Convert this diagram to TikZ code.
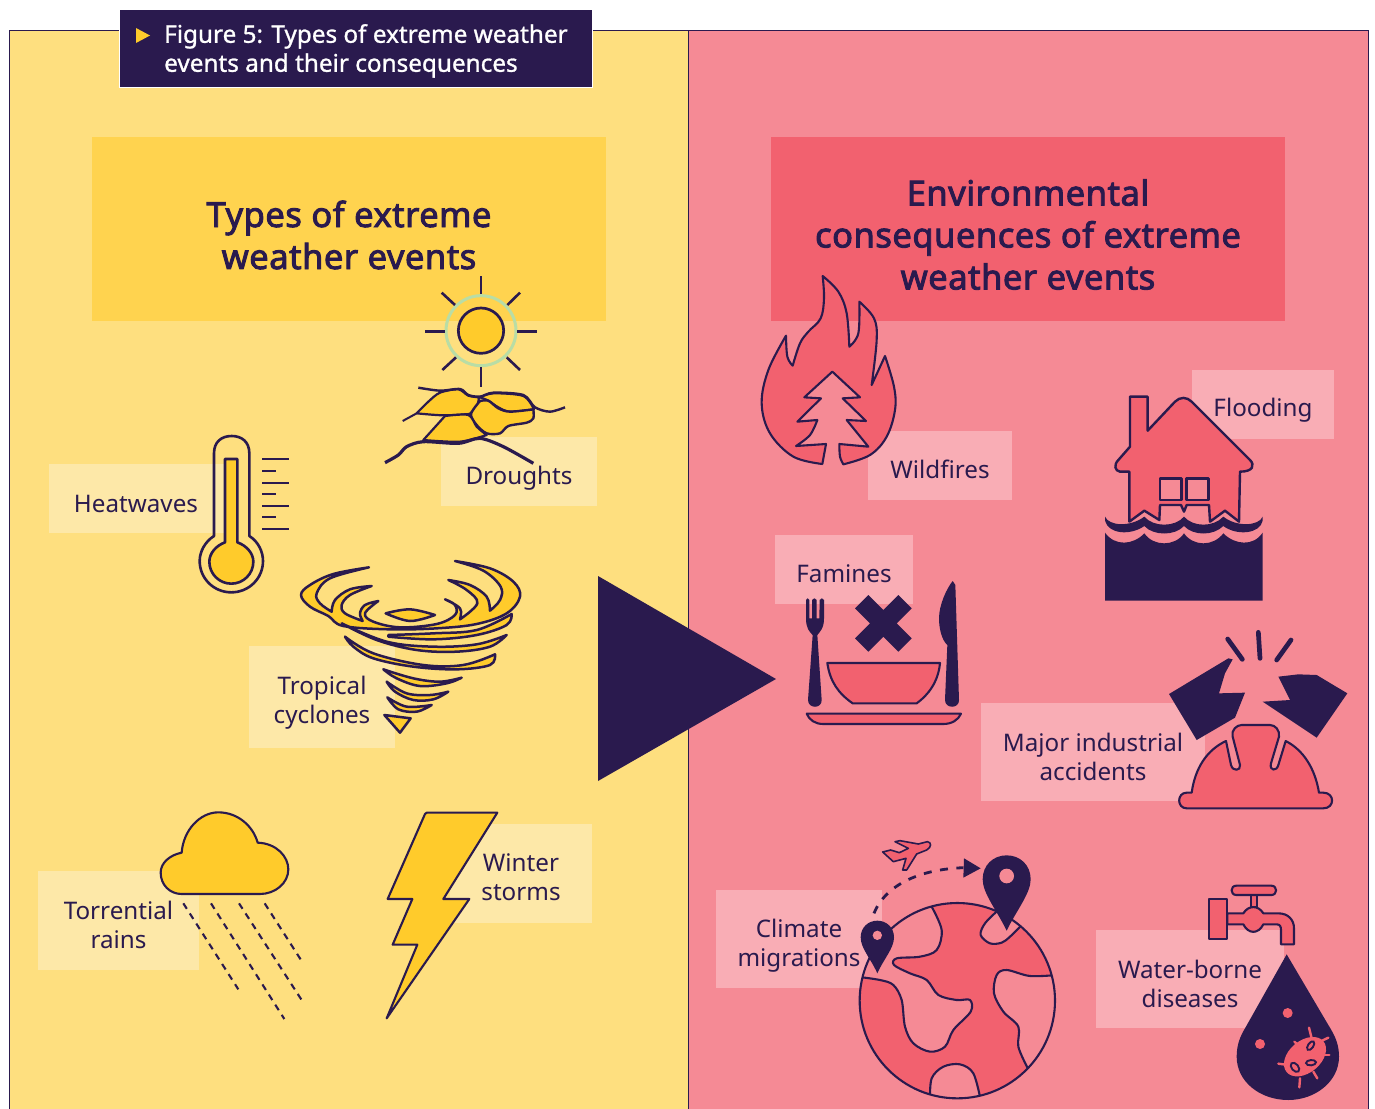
\documentclass[tikz,border=0pt]{standalone}
\usepackage{fontspec}
\setmainfont{Noto Sans}
\newfontfamily\medfont[FakeBold=1.1]{Noto Sans}
\newfontfamily\headfont[FakeBold=2.6,LetterSpace=1.5]{Noto Sans}
\definecolor{navy}{HTML}{2A1A4E}
\definecolor{ypanel}{HTML}{FEDF7F}
\definecolor{yhead}{HTML}{FFD34F}
\definecolor{ylabel}{HTML}{FDE8A8}
\definecolor{sun}{HTML}{FFCB2B}
\definecolor{rpanel}{HTML}{F58A95}
\definecolor{rhead}{HTML}{F2616F}
\definecolor{rlabel}{HTML}{F9ADB5}
\definecolor{ringg}{HTML}{B9DDA5}
\tikzset{
  zoomed/.style={x=0.33333pt,y=-0.33333pt},
  ic/.style={draw=navy,line width=2.1pt,line join=round},
  ray/.style={draw=navy,line width=2.6pt},
  lab/.style={inner sep=0pt,align=center,text=navy,font=\fontsize{24.2}{29}\selectfont},
  ybox/.style={inner sep=0pt,fill=ylabel},
  rbox/.style={inner sep=0pt,fill=rlabel},
  headtxt/.style={inner sep=0pt,align=center,text=navy,font=\fontsize{34.5}{42}\selectfont\headfont},
}
\begin{document}
\begin{tikzpicture}[x=1pt,y=-1pt]
\useasboundingbox (0,0) rectangle (1375,1108);
% panels
\filldraw[fill=ypanel,draw=navy,line width=1pt] (9.5,30.5) rectangle (688,1120);
\filldraw[fill=rpanel,draw=navy,line width=1pt] (688,30.5) rectangle (1368,1120);
% title
\node[draw=white,line width=1pt,fill=navy,minimum width=473pt,minimum height=77pt,inner sep=0pt] (titlebox) at (355.5,48.5) {};
\node[anchor=north west,inner sep=0pt,text=white,align=left,font=\fontsize{24.3}{29}\selectfont\medfont] (titletext) at (164,24) {Figure 5: Types of extreme weather\\events and their consequences};
\fill[sun] (136,28) -- (150,35.5) -- (136,43) -- cycle;
% headers
\node[fill=yhead,minimum width=514pt,minimum height=184pt,inner sep=0pt] (lefthead) at (349,229) {};
\node[headtxt] (lefttext) at (349,235) {Types of extreme\\weather events};
\node[fill=rhead,minimum width=514pt,minimum height=184pt,inner sep=0pt] (righthead) at (1028,229) {};
\node[headtxt] (righttext) at (1028,234.5) {Environmental\\consequences of extreme\\weather events};
% labels
\node[ybox,minimum width=175pt,minimum height=69pt] (heatbox) at (136.5,498.5) {};
\node[lab] (heat) at (136,503.5) {Heatwaves};
\node[ybox,minimum width=156pt,minimum height=69pt] (droughtbox) at (519,471.5) {};
\node[lab] (drought) at (519,478) {Droughts};
\node[ybox,minimum width=146pt,minimum height=102pt] (cyclonebox) at (322,697) {};
\node[lab] (cyclone) at (322,703) {Tropical\\cyclones};
\node[ybox,minimum width=161pt,minimum height=99pt] (rainbox) at (118.5,920.5) {};
\node[lab] (rain) at (118.5,925) {Torrential\\rains};
\node[ybox,minimum width=142pt,minimum height=99pt] (winterbox) at (521,873.5) {};
\node[lab] (winter) at (521,877.5) {Winter\\storms};
\node[rbox,minimum width=144pt,minimum height=69pt] (wildbox) at (940,465.5) {};
\node[lab] (wild) at (940,469.5) {Wildfires};
\node[rbox,minimum width=142pt,minimum height=69pt] (floodbox) at (1263,404.5) {};
\node[lab] (flood) at (1263,410.5) {Flooding};
\node[rbox,minimum width=138pt,minimum height=69pt] (faminebox) at (844,569.5) {};
\node[lab] (famine) at (844,574) {Famines};
\node[rbox,minimum width=224pt,minimum height=98pt] (majorbox) at (1093,752) {};
\node[lab] (major) at (1093,757) {Major industrial\\accidents};
\node[rbox,minimum width=166pt,minimum height=98pt] (climatebox) at (799,939) {};
\node[lab] (climate) at (799,946) {Climate\\migrations};
\node[rbox,minimum width=188pt,minimum height=98pt] (waterbox) at (1190,979) {};
\node[lab] (water) at (1190,983.5) {Water-borne\\diseases};
% big arrow
\fill[navy] (598,576) -- (776,679) -- (598,781) -- cycle;
% ---- sun and drought
\begin{scope}[shift={(370,270)},zoomed]
\draw[draw=ringg,line width=3pt] (333,182) circle (105);
\filldraw[ic,fill=sun,line width=2.7pt] (333,182) circle (68);
\foreach \a/\b/\c/\d in {333/18/333/72,165/184/225/184,442/184/500/184,333/292/333/350,215/68/255/105,450/68/412/105,258/262/217/300,410/262/450/300}
  \draw[ray] (\a,\b) -- (\c,\d);
\begin{scope}[ic,fill=sun,smooth,tension=.5]
\filldraw[line width=2.2pt] (140,430) -- plot coordinates {(140,430)(175,395)(210,368)(265,358)(295,377)(327,382)} -- plot coordinates {(327,382)(320,412)(298,432)} -- plot coordinates {(298,432)(220,436)(140,430)} -- cycle;
\filldraw[line width=2.2pt] plot coordinates {(330,382)(370,370)(460,378)(492,418)} -- plot coordinates {(492,418)(420,425)(385,412)(355,392)(330,382)} -- cycle;
\filldraw[line width=2.4pt] plot coordinates {(330,393)(355,392)(385,415)(420,425)(490,418)} -- plot coordinates {(490,418)(490,445)(470,458)(415,468)(390,490)(350,490)(320,465)(303,432)(330,393)} -- cycle;
\filldraw[line width=2.2pt] plot coordinates {(225,438)(295,435)(320,470)(350,495)} -- plot coordinates {(350,495)(270,515)(160,510)} -- cycle;
\draw[fill=none,line width=2.4pt] plot coordinates {(145,353)(210,362)(270,357)(295,375)(330,380)(370,368)(460,375)(495,412)(540,425)(585,412)};
\draw[fill=none,line width=2pt] plot coordinates {(98,453)(140,430)};
\draw[fill=none,line width=3.2pt] plot coordinates {(45,578)(85,555)(110,530)(160,515)(265,520)(330,505)(400,530)(490,580)};
\end{scope}
\end{scope}
% ---- thermometer
\begin{scope}[shift={(190,425)},zoomed]
\draw[ic,line width=2.6pt] (72,333) -- (72,85) .. controls (72,50) and (95,33) .. (125,33) .. controls (155,33) and (178,50) .. (178,85) -- (178,333) .. controls (205,350) and (219,380) .. (219,408) .. controls (219,460) and (177,502) .. (124,502) .. controls (71,502) and (29,460) .. (29,408) .. controls (29,380) and (45,350) .. (72,333) -- cycle;
\filldraw[ic,fill=sun,line width=2.6pt] (105,352) -- (105,102) -- (142,102) -- (142,352) .. controls (170,362) and (190,385) .. (190,410) .. controls (190,447) and (160,476) .. (124,476) .. controls (88,476) and (58,447) .. (58,410) .. controls (58,385) and (78,362) .. (105,352) -- cycle;
\foreach \y in {103,173,243,312} \draw[ray,line width=2.1pt] (217,\y) -- (297,\y);
\foreach \y in {138,207,277} \draw[ray,line width=2.1pt] (217,\y) -- (257,\y);
\end{scope}
% ---- tornado
\begin{scope}[shift={(290,550)},zoomed]
\begin{scope}[ic,line width=2.5pt,fill=sun,smooth,tension=.6]
\filldraw plot coordinates {(237,52)(130,72)(60,105)(33,135)(60,170)(115,198)(160,228)(300,238)(440,235)(560,222)(650,190)(690,140)(670,95)(600,55)(495,33)} -- plot coordinates {(495,33)(580,62)(632,110)(630,150)(600,182)} -- plot coordinates {(600,182)(590,140)(540,105)(475,90)} -- plot coordinates {(475,90)(530,120)(562,160)(510,208)} -- plot coordinates {(510,208)(510,175)(465,148)} -- plot coordinates {(465,148)(495,165)(495,195)(440,222)(330,232)(250,215)(225,190)(265,153)} -- plot coordinates {(265,153)(225,165)(210,190)(218,213)} -- plot coordinates {(218,213)(165,190)(155,165)(180,135)(245,108)} -- plot coordinates {(245,108)(180,118)(135,150)(125,185)} -- plot coordinates {(125,185)(90,160)(80,130)(120,85)(237,52)} -- cycle;
\filldraw plot coordinates {(287,190)(360,178)(435,195)} -- plot coordinates {(435,195)(360,213)(287,190)} -- cycle;
\filldraw plot coordinates {(665,192)(560,240)(430,250)(295,255)} -- plot coordinates {(295,260)(430,268)(560,255)(650,225)(665,192)} -- cycle;
\filldraw plot coordinates {(155,220)(290,275)(430,290)(560,283)(650,255)} -- plot coordinates {(650,255)(600,290)(500,305)(380,300)(260,270)(155,220)} -- cycle;
\filldraw plot coordinates {(165,260)(250,310)(400,345)(520,345)(615,313)} -- plot coordinates {(615,313)(600,345)(500,358)(370,350)(250,325)(190,290)(165,260)} -- cycle;
\filldraw plot coordinates {(280,358)(370,385)(450,395)(515,383)} -- plot coordinates {(515,383)(470,400)(390,408)(320,385)(280,358)} -- cycle;
\filldraw plot coordinates {(290,395)(350,430)(420,435)(475,425)} -- plot coordinates {(475,425)(430,448)(370,450)(315,425)(290,395)} -- cycle;
\filldraw plot coordinates {(292,442)(350,470)(425,465)} -- plot coordinates {(425,465)(380,485)(325,478)(292,442)} -- cycle;
\filldraw[sharp plot] (283,495) -- (362,505) -- (330,548) -- cycle;
\end{scope}
\end{scope}
% ---- cloud, rain, lightning
\begin{scope}[shift={(150,800)},zoomed]
\filldraw[ic,fill=sun] (95,158) .. controls (100,90) and (150,37) .. (205,37) .. controls (265,37) and (310,80) .. (323,128) .. controls (380,130) and (415,170) .. (415,208) .. controls (415,250) and (375,282) .. (330,282) -- (95,282) .. controls (60,282) and (32,255) .. (32,218) .. controls (32,188) and (60,165) .. (95,158) -- cycle;
\foreach \a/\b/\c/\d in {100/310/265/568,183/310/403/657,267/310/455/600,344/310/455/483}
  \draw[navy,line width=2.1pt,dash pattern=on 6.5pt off 5.5pt] (\a,\b) -- (\c,\d);
\filldraw[ic,fill=sun] (830,38) -- (1042,38) -- (880,297) -- (958,297) -- (710,655) -- (802,434) -- (728,434) -- (787,297) -- (713,297) -- (825,42) -- cycle;
\end{scope}
% ---- flame
\begin{scope}[shift={(750,270)},zoomed]
\filldraw[ic,fill=rhead,smooth,tension=.6] plot coordinates {(218,18)(265,65)(290,130)(298,230)} -- plot coordinates {(298,230)(325,190)(328,95)} -- plot coordinates {(328,95)(372,145)(380,210)(365,345)} -- (405,258) -- plot coordinates {(405,258)(432,350)(435,420)(410,500)(360,555)(280,583)} -- plot coordinates {(280,583)(270,560)(268,522)} -- (355,530) -- (290,450) -- (348,453) -- (278,385) -- (330,382) -- (247,305) -- (163,382) -- (213,385) -- (142,455) -- (202,450) -- plot coordinates {(202,450)(180,495)(138,528)} -- (228,522) -- (217,582) -- plot coordinates {(217,582)(130,560)(60,490)(35,400)(55,300)(108,197)} -- plot coordinates {(108,197)(112,260)(128,287)} -- plot coordinates {(128,287)(150,220)(175,185)(212,145)(222,85)(218,18)} -- cycle;
\end{scope}
% ---- house
\begin{scope}[shift={(1095,390)},zoomed]
\filldraw[ic,fill=rhead,line width=2.4pt] (105,170) -- (105,20) -- (158,20) -- (158,122) -- (240,35) .. controls (255,20) and (275,20) .. (290,35) -- (465,210) .. controls (480,225) and (475,245) .. (435,245) -- (432,395) -- (390,362) -- (345,395) -- (342,345) -- (275,345) -- (267,365) -- (258,345) -- (195,345) -- (193,390) -- (148,362) -- (103,395) -- (103,245) -- (75,245) .. controls (60,243) and (55,225) .. (70,210) -- cycle;
\filldraw[ic,fill=rpanel,line width=2.4pt] (195,265) rectangle (260,330);
\filldraw[ic,fill=rpanel,line width=2.4pt] (275,265) rectangle (340,330);
\fill[navy] (30,380) .. controls (42,408) and (105,412) .. (148,380) .. controls (175,412) and (240,412) .. (267,380) .. controls (295,412) and (355,412) .. (385,380) .. controls (425,412) and (492,408) .. (503,380) -- (503,392) .. controls (495,432) and (425,438) .. (385,408) .. controls (355,438) and (295,438) .. (267,408) .. controls (240,438) and (175,438) .. (148,408) .. controls (105,438) and (40,432) .. (30,392) -- cycle;
\fill[navy] (30,428) .. controls (60,470) and (115,465) .. (148,430) .. controls (175,470) and (240,470) .. (267,430) .. controls (295,470) and (355,470) .. (385,430) .. controls (420,465) and (475,470) .. (503,428) -- (503,632) -- (30,632) -- cycle;
\end{scope}
% ---- famine
\begin{scope}[shift={(800,575)},zoomed]
\fill[navy,line join=round] (18,75) .. controls (20,68) and (26,68) .. (28,75) -- (28,130) -- (36,130) -- (36,75) .. controls (38,68) and (48,68) .. (50,75) -- (50,130) -- (58,130) -- (59,75) .. controls (61,68) and (70,68) .. (72,75) -- (72,130) .. controls (72,160) and (60,170) .. (52,180) -- (65,375) .. controls (66,402) and (24,402) .. (24,375) -- (38,180) .. controls (28,170) and (18,160) .. (18,130) -- cycle;
\fill[navy] (165,100) -- (205,60) -- (250,105) -- (295,60) -- (335,100) -- (290,145) -- (335,190) -- (295,230) -- (250,185) -- (205,230) -- (165,190) -- (210,145) -- cycle;
\fill[navy] (458,18) -- (466,30) -- (477,375) .. controls (478,402) and (435,402) .. (435,375) -- (442,210) .. controls (425,195) and (417,160) .. (417,130) .. controls (417,90) and (440,40) .. (458,18) -- cycle;
\filldraw[ic,fill=rhead] (82,264) -- (420,264) .. controls (415,320) and (385,360) .. (350,385) -- (158,385) .. controls (115,355) and (90,320) .. (82,264) -- cycle;
\filldraw[ic,fill=rhead] (20,416) -- (483,416) .. controls (475,435) and (455,447) .. (430,447) -- (70,447) .. controls (45,447) and (28,435) .. (20,416) -- cycle;
\end{scope}
% ---- helmet
\begin{scope}[shift={(1165,625)},zoomed]
\foreach \a/\b/\c/\d in {188/42/232/103,280/22/285/100,378/45/335/105}
  \draw[navy,line width=4.7pt,line cap=round] (\a,\b) -- (\c,\d);
\fill[navy] (12,207) -- (190,100) -- (203,103) -- (180,145) -- (162,205) -- (240,203) -- (210,278) -- (95,345) -- cycle;
\fill[navy] (340,155) -- (400,148) -- (455,150) -- (547,205) -- (455,338) -- (293,230) -- (375,225) -- cycle;
\filldraw[ic,fill=rhead] (183,348) .. controls (125,375) and (90,430) .. (80,503) -- (65,503) .. controls (35,503) and (35,550) .. (65,550) -- (475,550) .. controls (510,550) and (510,503) .. (475,503) -- (462,503) .. controls (450,430) and (415,375) .. (362,348) -- (340,420) .. controls (335,440) and (312,438) .. (318,415) -- (342,335) .. controls (345,315) and (330,300) .. (315,300) -- (230,300) .. controls (215,300) and (198,315) .. (203,335) -- (225,420) .. controls (228,438) and (203,440) .. (198,420) -- cycle;
\end{scope}
% ---- globe
\begin{scope}[shift={(850,830)},zoomed]
\fill[rhead] (322,512) circle (293);
\begin{scope}
\clip (322,512) circle (293);
\begin{scope}[ic,fill=rpanel,smooth,tension=.55]
\filldraw plot coordinates {(245,230)(275,300)(260,360)(210,380)(140,385)(132,405)(180,430)(230,450)(265,495)(320,510)(360,510)(362,545)(310,600)(285,650)(240,665)(190,640)(165,590)(155,510)(130,465)(90,450)(20,440)} -- (0,200) -- (245,200) -- cycle;
\filldraw plot coordinates {(620,435)(540,438)(470,420)(440,435)(432,490)(460,545)(505,590)(505,650)(532,712)} -- (650,712) -- (650,435) -- cycle;
\filldraw plot coordinates {(240,810)(245,745)(280,710)(330,703)(370,730)(392,810)} -- (392,850) -- (240,850) -- cycle;
\filldraw plot coordinates {(445,240)(405,280)(392,315)(420,340)(455,338)(480,320)(515,285)} -- (520,230) -- cycle;
\end{scope}
\end{scope}
\draw[ic] (322,512) circle (293);
\fill[navy] (470,302) .. controls (440,240) and (398,190) .. (398,148) .. controls (398,105) and (430,76) .. (470,76) .. controls (510,76) and (542,105) .. (542,148) .. controls (542,190) and (500,240) .. (470,302) -- cycle;
\fill[rpanel] (470,138) circle (22);
\fill[navy] (82,430) .. controls (62,385) and (32,355) .. (32,322) .. controls (32,292) and (55,272) .. (82,272) .. controls (109,272) and (132,292) .. (132,322) .. controls (132,355) and (102,385) .. (82,430) -- cycle;
\fill[rpanel] (82,316) circle (14);
\draw[navy,line width=2.8pt,dash pattern=on 8pt off 8.5pt] (72,250) .. controls (95,190) and (170,120) .. (340,113);
\fill[navy] (342,85) -- (392,115) -- (340,143) -- cycle;
\filldraw[ic,fill=rhead,line width=1.6pt] (98,66) -- (122,60) -- (148,68) -- (175,55) -- (135,35) -- (150,32) -- (205,42) -- (232,35) .. controls (245,36) and (245,52) .. (230,60) -- (200,72) -- (170,120) -- (158,120) -- (168,85) -- (130,95) -- cycle;
\end{scope}
% ---- tap and drop
\begin{scope}[shift={(1195,875)},zoomed]
\filldraw[ic,fill=rhead] (167,60) rectangle (187,95);
\filldraw[ic,fill=rhead] (124,32) -- (229,32) .. controls (248,32) and (248,60) .. (229,60) -- (124,60) .. controls (105,60) and (105,32) .. (124,32) -- cycle;
\filldraw[ic,fill=rhead] (97,115) -- (145,115) .. controls (160,90) and (190,90) .. (205,115) -- (250,115) .. controls (280,115) and (297,135) .. (297,160) -- (297,208) -- (258,208) -- (258,165) .. controls (258,155) and (255,148) .. (245,148) -- (205,148) .. controls (190,178) and (160,178) .. (145,148) -- (97,148) -- cycle;
\filldraw[ic,fill=rhead] (42,72) rectangle (97,192);
\fill[navy] (275,238) -- (400,450) .. controls (422,485) and (432,510) .. (432,545) .. controls (432,620) and (360,675) .. (280,675) .. controls (195,675) and (125,620) .. (125,545) .. controls (125,510) and (135,485) .. (150,460) -- cycle;
\fill[rhead] (278,414) circle (15);
\fill[rhead] (195,507) circle (15);
\foreach \a/\b/\c/\d in {342/458/350/490,298/500/315/515,400/488/375/500,403/540/385/540,367/610/355/590,313/637/315/610,250/566/280/570}
  \draw[rhead,line width=2.4pt,line cap=round] (\a,\b) -- (\c,\d);
\fill[rhead,rotate around={40:(330,545)}] (330,545) ellipse (72 and 48);
\draw[navy,line width=1.9pt,rotate around={55:(347,512)}] (347,512) ellipse (15 and 8);
\draw[navy,line width=1.9pt,rotate around={5:(348,563)}] (348,563) ellipse (15 and 8);
\draw[navy,line width=1.9pt,rotate around={-50:(300,577)}] (300,577) ellipse (16 and 10);
\end{scope}
\end{tikzpicture}
\end{document}
